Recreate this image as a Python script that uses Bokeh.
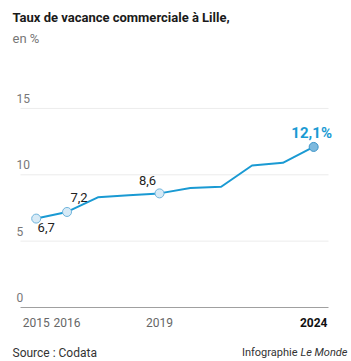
from bokeh.plotting import figure
from bokeh.models import Label, Range1d, ColumnDataSource
from bokeh.embed import file_html
from bokeh.resources import INLINE

years = [2015, 2016, 2017, 2018, 2019, 2020, 2021, 2022, 2023, 2024]
rates = [6.7, 7.2, 8.3, 8.45, 8.6, 9.0, 9.1, 10.7, 10.9, 12.1]
marked_years = [2015, 2016, 2019]
marked_rates = [6.7, 7.2, 8.6]
last_year = [2024]
last_rate = [12.1]
y_ticks = [0, 5, 10, 15]
x_ticks = [2015, 2016, 2019, 2024]
x_tick_labels = ["2015", "2016", "2019", "2024"]

FONT = "Roboto"
BLUE = "#1a9ad3"

W, H = 351, 361
GRID_L, GRID_R = 20, 328      # gridline extent, canvas px
ZERO_PX = 307                 # canvas y of value 0
X2015_PX = 35.7               # canvas x of 2015
PX_YEAR = 30.83
PX_UNIT = 13.27

xs = 2015 - X2015_PX / PX_YEAR
xe = xs + W / PX_YEAR
ye = ZERO_PX / PX_UNIT
ys = ye - H / PX_UNIT


def X(cx):
    return xs + cx / PX_YEAR


def Y(cy):
    return ye - cy / PX_UNIT


p = figure(width=W, height=H, output_backend="svg", toolbar_location=None,
           x_range=Range1d(xs, xe), y_range=Range1d(ys, ye),
           x_axis_location=None, y_axis_location=None, min_border=0)
p.outline_line_color = None
p.grid.visible = False

# gridlines
gx0 = [X(GRID_L)] * (len(y_ticks) - 1)
gx1 = [X(GRID_R)] * (len(y_ticks) - 1)
p.segment(gx0, y_ticks[1:], gx1, y_ticks[1:], line_color="#ececec", line_width=1)
p.segment([X(GRID_L)], [0], [X(GRID_R)], [0], line_color="#a0a0a0", line_width=1)

src = ColumnDataSource(dict(x=years, y=rates))
p.line("x", "y", source=src, line_color=BLUE, line_width=2)
p.scatter(marked_years, marked_rates, size=9, fill_color="#d7eaf6",
          line_color="#6fb4dc", line_width=1)
p.scatter(last_year, last_rate, size=9, fill_color="#7db9de",
          line_color="#3c94c8", line_width=1)


def canvas_label(text, cx, cy, size, color, style="normal", align="left"):
    return Label(x=X(cx), y=Y(cy), text=text,
                 text_font=FONT, text_font_size=size, text_color=color,
                 text_font_style=style, text_align=align, text_baseline="middle")


# data labels
lab_offsets = {2015: (10, -9), 2016: (12, 14), 2019: (-12, 13)}
for yr, v in zip(marked_years, marked_rates):
    dx, dy = lab_offsets[yr]
    p.add_layout(Label(x=yr, y=v, x_offset=dx, y_offset=dy, text=f"{v:.1f}".replace(".", ","),
                       text_font=FONT, text_font_size="13px", text_color="#222222",
                       text_align="center", text_baseline="middle"))
for yr, v in zip(last_year, last_rate):
    p.add_layout(Label(x=yr, y=v, x_offset=-2, y_offset=14, text=f"{v:.1f}%".replace(".", ","),
                       text_font=FONT, text_font_size="15px", text_font_style="bold",
                       text_color=BLUE, text_align="center", text_baseline="middle"))

# y tick labels
for t in y_ticks:
    p.add_layout(Label(x=X(16), y=t, y_offset=10, text=str(t),
                       text_font=FONT, text_font_size="12px", text_color="#777777",
                       text_align="left", text_baseline="middle"))

# x tick labels
for t, s in zip(x_ticks, x_tick_labels):
    bold = t == x_ticks[-1]
    p.add_layout(Label(x=t, y=0, y_offset=-15, text=s, text_font=FONT,
                       text_font_size="12px",
                       text_font_style="bold" if bold else "normal",
                       text_color="#111111" if bold else "#666666",
                       text_align="center", text_baseline="middle"))

p.add_layout(canvas_label("Taux de vacance commerciale à Lille,", 12, 17, "13px", "#1a1a1a", "bold"))
p.add_layout(canvas_label("en %", 12, 38, "13px", "#777777"))
p.add_layout(canvas_label("Source : Codata", 12, 352, "12px", "#333333"))
p.add_layout(canvas_label("Le Monde", 347, 352, "11px", "#333333", "italic", "right"))
p.add_layout(canvas_label("Infographie", 297, 352, "11px", "#333333", "normal", "right"))

open("out.html", "w").write(file_html(p, INLINE))
